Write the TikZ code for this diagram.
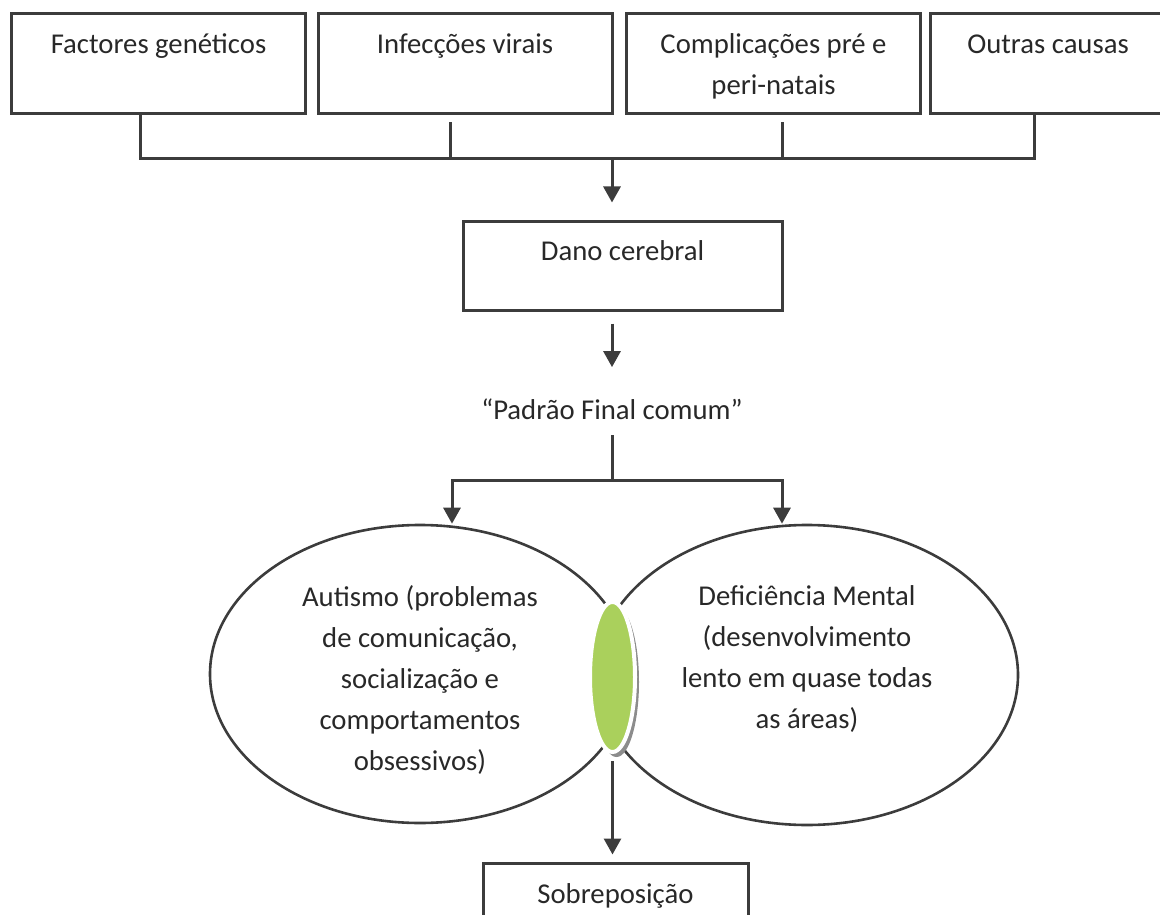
\documentclass[tikz,border=0pt]{standalone}
\usepackage{fontspec}
\setmainfont{Carlito}
\usepackage{tikz}
\usetikzlibrary{shapes,arrows.meta,shadows}

\definecolor{ink}{RGB}{60,60,60}
\definecolor{txt}{RGB}{40,40,40}
\definecolor{lensgreen}{RGB}{170,208,92}

\tikzset{
  causebox/.style={draw=ink, rectangle, line width=3pt, minimum width=294pt, minimum height=100pt, inner sep=0pt},
  lbl/.style={font=\fontsize{28.7pt}{41pt}\selectfont, text=txt, inner sep=0pt, align=center},
  blob/.style={draw=ink, ellipse, line width=2.6pt, inner sep=0pt},
  link/.style={draw=ink, line width=3pt},
  arr/.style={link, -{Triangle[width=17pt,length=16pt]}}
}

\begin{document}
\begin{tikzpicture}[x=1pt,y=-1pt]
		\useasboundingbox (0,0) rectangle (1160,915);
		\clip (0,0) rectangle (1160,915);
		% causas
		\node[causebox] (gen) at (158.5,64) {};
		\node[causebox] (inf) at (465,64) {};
		\node[causebox] (comp) at (773.5,64) {};
		\node[causebox, minimum width=236pt] (outr) at (1048,64) {};
		\node[lbl, anchor=north] (gen-t) at ([yshift=-21pt]gen.north) {Factores genéticos};
		\node[lbl, anchor=north] (inf-t) at ([yshift=-21pt]inf.north) {Infecções virais};
		\node[lbl, anchor=north] (comp-t) at ([yshift=-21pt]comp.north) {Complicações pré e\\peri-natais};
		\node[lbl, anchor=north] (outr-t) at ([yshift=-22pt]outr.north) {Outras causas};
		\coordinate (bus) at (612,159);
		\coordinate (d1) at ([xshift=-18.5pt]gen.south);
		\coordinate (d2) at ([xshift=-15pt,yshift=-7pt]inf.south);
		\coordinate (d3) at ([xshift=8.5pt,yshift=-7pt]comp.south);
		\coordinate (d4) at ([xshift=-14pt]outr.south);
		\draw[link] (d1) |- (bus) -| (d4);
		\draw[link] (d2) -- (d2 |- bus);
		\draw[link] (d3) -- (d3 |- bus);
		% dano
		\node[causebox, minimum width=319pt, minimum height=89pt] (dano) at (622.5,265.5) {};
		\node[lbl, anchor=north] (dano-t) at ([yshift=-21pt]dano.north) {Dano cerebral};
		\draw[arr, shorten >=17pt] (bus) -- (bus |- dano.north);
		\node[lbl, anchor=base] (padrao) at (612,419) {“Padrão Final comum”};
		\draw[arr, shorten <=12pt, shorten >=31pt] (bus |- dano.south) -- (bus |- padrao.north);
		\coordinate (split) at (612,480);
		\draw[link, shorten <=16pt] (padrao.south) -- (split);
		% autismo / deficiencia
		\node[blob, minimum width=420pt, minimum height=298pt] (aut) at (420,674) {};
		\node[blob, minimum width=422pt, minimum height=300pt] (dm) at (807,675) {};
		\draw[arr] (split) -| ([xshift=32pt]aut.north);
		\draw[arr] (split) -| ([xshift=-25pt]dm.north);
		\node[lbl, anchor=north] (aut-t) at ([yshift=-62pt]aut.north) {Autismo (problemas\\de comunicação,\\socialização e\\comportamentos\\obsessivos)};
		\node[lbl, anchor=north] (dm-t) at ([yshift=-62pt]dm.north) {Deficiência Mental\\(desenvolvimento\\lento em quase todas\\as áreas)};
		% sobreposicao
		\node[ellipse, fill=lensgreen, draw=white, line width=4pt, minimum width=45pt, minimum height=150pt, inner sep=0pt,
			drop shadow={shadow xshift=4pt, shadow yshift=-5pt, fill=black!45, opacity=1}] (lens) at (612.5,677) {};
		\node[causebox, minimum width=265pt, minimum height=89pt] (sobre) at (615.5,907.5) {};
		\node[lbl, anchor=north] (sobre-t) at ([yshift=-22pt]sobre.north) {Sobreposição};
		\draw[arr, shorten <=7pt, shorten >=7pt] (lens.south) -- (lens.south |- sobre.north);
\end{tikzpicture}
\end{document}
